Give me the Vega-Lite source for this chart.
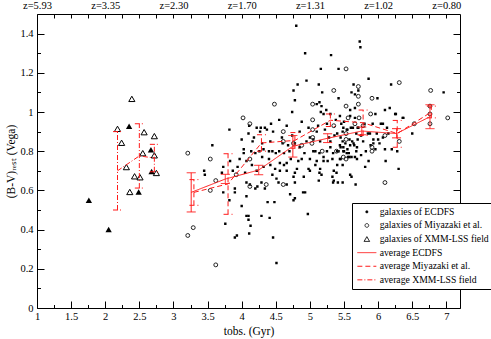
{
  "$schema": "https://vega.github.io/schema/vega-lite/v6.json",
  "width": 423,
  "height": 294,
  "autosize": {"type": "none"},
  "padding": {"left": 37, "top": 14, "right": 31, "bottom": 31},
  "background": "white",
  "config": {
    "view": {"stroke": null},
    "font": "Liberation Serif",
    "axis": {
      "labelFont": "Liberation Serif", "titleFont": "Liberation Serif",
      "labelFontSize": 10.5, "titleFontSize": 11.5, "titleFontWeight": "normal",
      "labelColor": "black", "titleColor": "black", "domainColor": "black", "tickColor": "black",
      "grid": false, "domainWidth": 1, "tickWidth": 1, "labelFlush": false, "labelOverlap": false, "labelBound": false
    },
    "legend": {
      "orient": "none", "legendX": 315, "legendY": 189,
      "strokeColor": "black", "fillColor": "white", "padding": 4,
      "labelFont": "Liberation Serif", "labelFontSize": 9.7, "labelColor": "black", "labelLimit": 0,
      "symbolStrokeWidth": 1, "symbolSize": 30, "rowPadding": 2.6, "labelOffset": 8, "symbolOffset": 6
    }
  },
  "datasets": {
    "pts": [
      {"s":"galaxies of ECDFS","t":4.80,"v":1.44},{"s":"galaxies of ECDFS","t":4.93,"v":1.30},{"s":"galaxies of ECDFS","t":5.31,"v":1.29},
      {"s":"galaxies of ECDFS","t":5.16,"v":1.22},{"s":"galaxies of ECDFS","t":5.42,"v":1.22},{"s":"galaxies of ECDFS","t":5.73,"v":1.36},
      {"s":"galaxies of ECDFS","t":5.74,"v":1.33},{"s":"galaxies of ECDFS","t":4.95,"v":1.16},{"s":"galaxies of ECDFS","t":4.82,"v":1.14},
      {"s":"galaxies of ECDFS","t":5.13,"v":1.14},{"s":"galaxies of ECDFS","t":5.64,"v":1.14},{"s":"galaxies of ECDFS","t":5.86,"v":1.17},
      {"s":"galaxies of ECDFS","t":6.19,"v":1.14},{"s":"galaxies of ECDFS","t":6.96,"v":1.10},{"s":"galaxies of ECDFS","t":4.76,"v":1.11},
      {"s":"galaxies of ECDFS","t":5.18,"v":1.10},{"s":"galaxies of ECDFS","t":5.61,"v":1.10},{"s":"galaxies of ECDFS","t":5.66,"v":1.09},
      {"s":"galaxies of ECDFS","t":5.71,"v":1.11},{"s":"galaxies of ECDFS","t":5.42,"v":1.07},{"s":"galaxies of ECDFS","t":5.99,"v":1.07},
      {"s":"galaxies of ECDFS","t":4.78,"v":1.06},{"s":"galaxies of ECDFS","t":5.14,"v":1.05},{"s":"galaxies of ECDFS","t":5.17,"v":1.03},
      {"s":"galaxies of ECDFS","t":5.16,"v":1.00},{"s":"galaxies of ECDFS","t":5.24,"v":1.01},{"s":"galaxies of ECDFS","t":5.66,"v":1.02},
      {"s":"galaxies of ECDFS","t":5.59,"v":1.01},{"s":"galaxies of ECDFS","t":6.10,"v":1.01},{"s":"galaxies of ECDFS","t":6.17,"v":1.02},
      {"s":"galaxies of ECDFS","t":6.25,"v":0.99},{"s":"galaxies of ECDFS","t":6.36,"v":0.97},{"s":"galaxies of ECDFS","t":4.74,"v":1.00},
      {"s":"galaxies of ECDFS","t":5.20,"v":0.99},{"s":"galaxies of ECDFS","t":5.30,"v":0.99},{"s":"galaxies of ECDFS","t":5.44,"v":0.98},
      {"s":"galaxies of ECDFS","t":5.59,"v":0.98},{"s":"galaxies of ECDFS","t":5.66,"v":0.97},{"s":"galaxies of ECDFS","t":5.96,"v":0.99},
      {"s":"galaxies of ECDFS","t":6.26,"v":0.99},{"s":"galaxies of ECDFS","t":6.37,"v":0.97},{"s":"galaxies of ECDFS","t":6.04,"v":0.94},
      {"s":"galaxies of ECDFS","t":6.07,"v":0.94},{"s":"galaxies of ECDFS","t":5.92,"v":0.94},{"s":"galaxies of ECDFS","t":6.50,"v":0.89},
      {"s":"galaxies of ECDFS","t":3.82,"v":0.91},{"s":"galaxies of ECDFS","t":4.11,"v":0.93},{"s":"galaxies of ECDFS","t":4.22,"v":0.92},
      {"s":"galaxies of ECDFS","t":4.28,"v":0.92},{"s":"galaxies of ECDFS","t":4.34,"v":0.92},{"s":"galaxies of ECDFS","t":4.37,"v":0.91},
      {"s":"galaxies of ECDFS","t":4.66,"v":0.93},{"s":"galaxies of ECDFS","t":4.46,"v":0.90},{"s":"galaxies of ECDFS","t":4.27,"v":0.90},
      {"s":"galaxies of ECDFS","t":4.98,"v":0.92},{"s":"galaxies of ECDFS","t":4.10,"v":0.89},{"s":"galaxies of ECDFS","t":4.18,"v":0.87},
      {"s":"galaxies of ECDFS","t":4.16,"v":0.85},{"s":"galaxies of ECDFS","t":4.00,"v":0.86},{"s":"galaxies of ECDFS","t":3.57,"v":0.83},
      {"s":"galaxies of ECDFS","t":4.59,"v":0.87},{"s":"galaxies of ECDFS","t":4.74,"v":0.88},{"s":"galaxies of ECDFS","t":4.85,"v":0.90},
      {"s":"galaxies of ECDFS","t":5.10,"v":0.90},{"s":"galaxies of ECDFS","t":5.22,"v":0.91},{"s":"galaxies of ECDFS","t":5.40,"v":0.89},
      {"s":"galaxies of ECDFS","t":5.48,"v":0.90},{"s":"galaxies of ECDFS","t":5.55,"v":0.91},{"s":"galaxies of ECDFS","t":5.60,"v":0.92},
      {"s":"galaxies of ECDFS","t":5.68,"v":0.89},{"s":"galaxies of ECDFS","t":5.75,"v":0.88},{"s":"galaxies of ECDFS","t":5.85,"v":0.89},
      {"s":"galaxies of ECDFS","t":5.88,"v":0.89},{"s":"galaxies of ECDFS","t":5.98,"v":0.89},{"s":"galaxies of ECDFS","t":6.07,"v":0.87},
      {"s":"galaxies of ECDFS","t":6.15,"v":0.89},{"s":"galaxies of ECDFS","t":6.00,"v":0.86},{"s":"galaxies of ECDFS","t":5.93,"v":0.86},
      {"s":"galaxies of ECDFS","t":5.93,"v":0.84},{"s":"galaxies of ECDFS","t":5.89,"v":0.83},{"s":"galaxies of ECDFS","t":5.96,"v":0.81},
      {"s":"galaxies of ECDFS","t":6.10,"v":0.81},{"s":"galaxies of ECDFS","t":6.20,"v":0.81},{"s":"galaxies of ECDFS","t":6.28,"v":0.80},
      {"s":"galaxies of ECDFS","t":5.00,"v":0.87},{"s":"galaxies of ECDFS","t":5.05,"v":0.86},{"s":"galaxies of ECDFS","t":4.95,"v":0.85},
      {"s":"galaxies of ECDFS","t":5.15,"v":0.85},{"s":"galaxies of ECDFS","t":5.30,"v":0.85},{"s":"galaxies of ECDFS","t":5.48,"v":0.85},
      {"s":"galaxies of ECDFS","t":5.52,"v":0.84},{"s":"galaxies of ECDFS","t":5.58,"v":0.86},{"s":"galaxies of ECDFS","t":5.62,"v":0.85},
      {"s":"galaxies of ECDFS","t":5.65,"v":0.83},{"s":"galaxies of ECDFS","t":5.45,"v":0.82},{"s":"galaxies of ECDFS","t":5.40,"v":0.80},
      {"s":"galaxies of ECDFS","t":5.50,"v":0.80},{"s":"galaxies of ECDFS","t":5.55,"v":0.81},{"s":"galaxies of ECDFS","t":5.57,"v":0.79},
      {"s":"galaxies of ECDFS","t":5.30,"v":0.82},{"s":"galaxies of ECDFS","t":5.25,"v":0.80},{"s":"galaxies of ECDFS","t":5.20,"v":0.77},
      {"s":"galaxies of ECDFS","t":5.14,"v":0.79},{"s":"galaxies of ECDFS","t":5.08,"v":0.80},{"s":"galaxies of ECDFS","t":5.00,"v":0.76},
      {"s":"galaxies of ECDFS","t":4.92,"v":0.79},{"s":"galaxies of ECDFS","t":4.85,"v":0.82},{"s":"galaxies of ECDFS","t":4.70,"v":0.80},
      {"s":"galaxies of ECDFS","t":4.62,"v":0.79},{"s":"galaxies of ECDFS","t":4.55,"v":0.80},{"s":"galaxies of ECDFS","t":4.50,"v":0.79},
      {"s":"galaxies of ECDFS","t":4.45,"v":0.80},{"s":"galaxies of ECDFS","t":4.40,"v":0.80},{"s":"galaxies of ECDFS","t":4.32,"v":0.81},
      {"s":"galaxies of ECDFS","t":4.26,"v":0.80},{"s":"galaxies of ECDFS","t":4.20,"v":0.79},{"s":"galaxies of ECDFS","t":4.14,"v":0.80},
      {"s":"galaxies of ECDFS","t":4.03,"v":0.81},{"s":"galaxies of ECDFS","t":4.03,"v":0.79},{"s":"galaxies of ECDFS","t":3.97,"v":0.76},
      {"s":"galaxies of ECDFS","t":4.07,"v":0.75},{"s":"galaxies of ECDFS","t":4.60,"v":0.84},{"s":"galaxies of ECDFS","t":4.68,"v":0.83},
      {"s":"galaxies of ECDFS","t":4.78,"v":0.84},{"s":"galaxies of ECDFS","t":4.42,"v":0.85},{"s":"galaxies of ECDFS","t":4.30,"v":0.84},
      {"s":"galaxies of ECDFS","t":3.94,"v":0.72},{"s":"galaxies of ECDFS","t":3.87,"v":0.70},{"s":"galaxies of ECDFS","t":3.83,"v":0.75},
      {"s":"galaxies of ECDFS","t":3.73,"v":0.72},{"s":"galaxies of ECDFS","t":3.71,"v":0.69},{"s":"galaxies of ECDFS","t":3.45,"v":0.70},
      {"s":"galaxies of ECDFS","t":3.46,"v":0.68},{"s":"galaxies of ECDFS","t":4.05,"v":0.69},{"s":"galaxies of ECDFS","t":4.22,"v":0.70},
      {"s":"galaxies of ECDFS","t":4.32,"v":0.72},{"s":"galaxies of ECDFS","t":4.42,"v":0.73},{"s":"galaxies of ECDFS","t":4.49,"v":0.71},
      {"s":"galaxies of ECDFS","t":4.56,"v":0.70},{"s":"galaxies of ECDFS","t":4.66,"v":0.70},{"s":"galaxies of ECDFS","t":4.76,"v":0.67},
      {"s":"galaxies of ECDFS","t":4.78,"v":0.69},{"s":"galaxies of ECDFS","t":4.81,"v":0.71},{"s":"galaxies of ECDFS","t":4.98,"v":0.71},
      {"s":"galaxies of ECDFS","t":5.34,"v":0.79},{"s":"galaxies of ECDFS","t":5.42,"v":0.80},{"s":"galaxies of ECDFS","t":5.20,"v":0.75},
      {"s":"galaxies of ECDFS","t":5.35,"v":0.70},{"s":"galaxies of ECDFS","t":5.35,"v":0.65},{"s":"galaxies of ECDFS","t":5.48,"v":0.64},
      {"s":"galaxies of ECDFS","t":5.59,"v":0.68},{"s":"galaxies of ECDFS","t":5.67,"v":0.63},{"s":"galaxies of ECDFS","t":5.58,"v":0.77},
      {"s":"galaxies of ECDFS","t":5.61,"v":0.77},{"s":"galaxies of ECDFS","t":5.00,"v":0.70},{"s":"galaxies of ECDFS","t":5.08,"v":0.73},
      {"s":"galaxies of ECDFS","t":5.14,"v":0.69},{"s":"galaxies of ECDFS","t":5.26,"v":0.75},{"s":"galaxies of ECDFS","t":5.39,"v":0.69},
      {"s":"galaxies of ECDFS","t":5.86,"v":0.75},{"s":"galaxies of ECDFS","t":6.11,"v":0.75},{"s":"galaxies of ECDFS","t":6.30,"v":0.71},
      {"s":"galaxies of ECDFS","t":5.81,"v":0.72},{"s":"galaxies of ECDFS","t":5.61,"v":0.67},{"s":"galaxies of ECDFS","t":5.41,"v":0.64},
      {"s":"galaxies of ECDFS","t":5.34,"v":0.64},{"s":"galaxies of ECDFS","t":5.33,"v":0.67},{"s":"galaxies of ECDFS","t":5.17,"v":0.68},
      {"s":"galaxies of ECDFS","t":5.13,"v":0.65},{"s":"galaxies of ECDFS","t":4.91,"v":0.67},{"s":"galaxies of ECDFS","t":4.93,"v":0.59},
      {"s":"galaxies of ECDFS","t":5.15,"v":0.71},{"s":"galaxies of ECDFS","t":5.40,"v":0.73},{"s":"galaxies of ECDFS","t":5.48,"v":0.73},
      {"s":"galaxies of ECDFS","t":4.07,"v":0.64},{"s":"galaxies of ECDFS","t":4.12,"v":0.63},{"s":"galaxies of ECDFS","t":4.20,"v":0.61},
      {"s":"galaxies of ECDFS","t":4.23,"v":0.62},{"s":"galaxies of ECDFS","t":4.29,"v":0.64},{"s":"galaxies of ECDFS","t":4.34,"v":0.61},
      {"s":"galaxies of ECDFS","t":3.73,"v":0.59},{"s":"galaxies of ECDFS","t":3.82,"v":0.55},{"s":"galaxies of ECDFS","t":3.90,"v":0.61},
      {"s":"galaxies of ECDFS","t":3.90,"v":0.59},{"s":"galaxies of ECDFS","t":4.07,"v":0.57},{"s":"galaxies of ECDFS","t":4.00,"v":0.52},
      {"s":"galaxies of ECDFS","t":4.10,"v":0.47},{"s":"galaxies of ECDFS","t":4.13,"v":0.42},{"s":"galaxies of ECDFS","t":3.90,"v":0.36},
      {"s":"galaxies of ECDFS","t":3.93,"v":0.37},{"s":"galaxies of ECDFS","t":4.11,"v":0.38},{"s":"galaxies of ECDFS","t":4.46,"v":0.36},
      {"s":"galaxies of ECDFS","t":4.29,"v":0.47},{"s":"galaxies of ECDFS","t":4.41,"v":0.46},{"s":"galaxies of ECDFS","t":4.38,"v":0.54},
      {"s":"galaxies of ECDFS","t":4.48,"v":0.54},{"s":"galaxies of ECDFS","t":4.71,"v":0.58},{"s":"galaxies of ECDFS","t":4.76,"v":0.55},
      {"s":"galaxies of ECDFS","t":4.78,"v":0.56},{"s":"galaxies of ECDFS","t":4.90,"v":0.59},{"s":"galaxies of ECDFS","t":4.97,"v":0.48},
      {"s":"galaxies of ECDFS","t":4.51,"v":0.23},{"s":"galaxies of ECDFS","t":3.76,"v":0.43},{"s":"galaxies of ECDFS","t":4.07,"v":0.47},
      {"s":"galaxies of ECDFS","t":4.10,"v":0.45},{"s":"galaxies of ECDFS","t":4.56,"v":0.74},{"s":"galaxies of ECDFS","t":4.66,"v":0.74},
      {"s":"galaxies of ECDFS","t":4.83,"v":0.75},{"s":"galaxies of ECDFS","t":4.51,"v":0.66},{"s":"galaxies of ECDFS","t":4.54,"v":0.64},
      {"s":"galaxies of ECDFS","t":4.66,"v":0.63},{"s":"galaxies of ECDFS","t":4.78,"v":0.64},{"s":"galaxies of ECDFS","t":5.10,"v":1.04},
      {"s":"galaxies of ECDFS","t":5.28,"v":0.87},{"s":"galaxies of ECDFS","t":5.36,"v":0.88},{"s":"galaxies of ECDFS","t":5.45,"v":0.87},
      {"s":"galaxies of ECDFS","t":5.70,"v":0.86},{"s":"galaxies of ECDFS","t":5.78,"v":0.85},{"s":"galaxies of ECDFS","t":5.82,"v":0.80},
      {"s":"galaxies of ECDFS","t":6.02,"v":0.84},{"s":"galaxies of ECDFS","t":5.75,"v":0.78},{"s":"galaxies of ECDFS","t":5.33,"v":0.76},
      {"s":"galaxies of ECDFS","t":5.45,"v":0.76},{"s":"galaxies of ECDFS","t":5.10,"v":0.75},{"s":"galaxies of ECDFS","t":5.05,"v":0.80},
      {"s":"galaxies of ECDFS","t":4.88,"v":0.76},{"s":"galaxies of ECDFS","t":4.72,"v":0.76},{"s":"galaxies of ECDFS","t":4.62,"v":0.73},
      {"s":"galaxies of ECDFS","t":4.40,"v":0.76},{"s":"galaxies of ECDFS","t":4.30,"v":0.77},{"s":"galaxies of ECDFS","t":4.15,"v":0.73},
      {"s":"galaxies of ECDFS","t":4.45,"v":0.68},{"s":"galaxies of ECDFS","t":5.70,"v":0.92},{"s":"galaxies of ECDFS","t":5.80,"v":0.94},
      {"s":"galaxies of ECDFS","t":6.13,"v":0.92},{"s":"galaxies of ECDFS","t":5.50,"v":0.95},{"s":"galaxies of ECDFS","t":5.38,"v":0.96},
      {"s":"galaxies of ECDFS","t":4.88,"v":0.95},{"s":"galaxies of ECDFS","t":4.55,"v":0.96},{"s":"galaxies of ECDFS","t":4.43,"v":0.94},
      {"s":"galaxies of ECDFS","t":5.25,"v":0.94},{"s":"galaxies of ECDFS","t":5.12,"v":0.93},{"s":"galaxies of ECDFS","t":5.46,"v":0.94},
      {"s":"galaxies of ECDFS","t":5.49,"v":0.92},{"s":"galaxies of ECDFS","t":5.54,"v":0.91},{"s":"galaxies of ECDFS","t":5.63,"v":0.92},
      {"s":"galaxies of ECDFS","t":5.71,"v":0.92},{"s":"galaxies of ECDFS","t":5.44,"v":0.83},{"s":"galaxies of ECDFS","t":5.49,"v":0.82},
      {"s":"galaxies of ECDFS","t":5.59,"v":0.83},{"s":"galaxies of ECDFS","t":5.69,"v":0.82},{"s":"galaxies of ECDFS","t":5.64,"v":0.84},
      {"s":"galaxies of ECDFS","t":5.68,"v":0.80},{"s":"galaxies of ECDFS","t":5.49,"v":0.80},{"s":"galaxies of ECDFS","t":5.54,"v":0.79},
      {"s":"galaxies of ECDFS","t":5.56,"v":0.77},{"s":"galaxies of ECDFS","t":5.66,"v":0.77},{"s":"galaxies of ECDFS","t":5.69,"v":0.76},
      {"s":"galaxies of ECDFS","t":5.44,"v":0.76},
      {"s":"galaxies of Miyazaki et al.","t":5.35,"v":1.11},{"s":"galaxies of Miyazaki et al.","t":4.48,"v":1.04},{"s":"galaxies of Miyazaki et al.","t":5.04,"v":1.04},
      {"s":"galaxies of Miyazaki et al.","t":5.53,"v":1.03},{"s":"galaxies of Miyazaki et al.","t":5.53,"v":1.22},{"s":"galaxies of Miyazaki et al.","t":6.31,"v":1.15},
      {"s":"galaxies of Miyazaki et al.","t":5.71,"v":1.13},{"s":"galaxies of Miyazaki et al.","t":4.02,"v":0.97},{"s":"galaxies of Miyazaki et al.","t":5.04,"v":0.96},
      {"s":"galaxies of Miyazaki et al.","t":5.56,"v":0.97},{"s":"galaxies of Miyazaki et al.","t":5.04,"v":0.91},{"s":"galaxies of Miyazaki et al.","t":4.12,"v":0.94},
      {"s":"galaxies of Miyazaki et al.","t":4.61,"v":0.90},{"s":"galaxies of Miyazaki et al.","t":4.61,"v":0.85},{"s":"galaxies of Miyazaki et al.","t":5.04,"v":0.87},
      {"s":"galaxies of Miyazaki et al.","t":4.88,"v":0.83},{"s":"galaxies of Miyazaki et al.","t":5.18,"v":0.80},{"s":"galaxies of Miyazaki et al.","t":5.53,"v":0.76},
      {"s":"galaxies of Miyazaki et al.","t":3.21,"v":0.79},{"s":"galaxies of Miyazaki et al.","t":3.54,"v":0.76},{"s":"galaxies of Miyazaki et al.","t":4.12,"v":0.76},
      {"s":"galaxies of Miyazaki et al.","t":5.03,"v":0.84},{"s":"galaxies of Miyazaki et al.","t":3.62,"v":0.65},{"s":"galaxies of Miyazaki et al.","t":3.54,"v":0.60},
      {"s":"galaxies of Miyazaki et al.","t":4.12,"v":0.62},{"s":"galaxies of Miyazaki et al.","t":4.36,"v":0.63},{"s":"galaxies of Miyazaki et al.","t":4.61,"v":0.63},
      {"s":"galaxies of Miyazaki et al.","t":3.92,"v":0.68},{"s":"galaxies of Miyazaki et al.","t":3.29,"v":0.41},{"s":"galaxies of Miyazaki et al.","t":3.21,"v":0.37},
      {"s":"galaxies of Miyazaki et al.","t":3.62,"v":0.22},{"s":"galaxies of Miyazaki et al.","t":5.71,"v":1.08},{"s":"galaxies of Miyazaki et al.","t":5.91,"v":1.07},
      {"s":"galaxies of Miyazaki et al.","t":5.71,"v":1.04},{"s":"galaxies of Miyazaki et al.","t":5.89,"v":0.99},{"s":"galaxies of Miyazaki et al.","t":5.66,"v":0.94},
      {"s":"galaxies of Miyazaki et al.","t":5.78,"v":0.93},{"s":"galaxies of Miyazaki et al.","t":5.53,"v":0.89},{"s":"galaxies of Miyazaki et al.","t":5.53,"v":0.86},
      {"s":"galaxies of Miyazaki et al.","t":5.91,"v":0.82},{"s":"galaxies of Miyazaki et al.","t":5.91,"v":0.80},{"s":"galaxies of Miyazaki et al.","t":6.10,"v":0.64},
      {"s":"galaxies of Miyazaki et al.","t":6.76,"v":1.03},{"s":"galaxies of Miyazaki et al.","t":6.76,"v":0.99},{"s":"galaxies of Miyazaki et al.","t":6.76,"v":0.94},
      {"s":"galaxies of Miyazaki et al.","t":6.53,"v":0.94},{"s":"galaxies of Miyazaki et al.","t":6.31,"v":0.85},{"s":"galaxies of Miyazaki et al.","t":7.02,"v":0.97},
      {"s":"galaxies of Miyazaki et al.","t":6.77,"v":1.11},{"s":"galaxies of Miyazaki et al.","t":5.35,"v":0.93},{"s":"galaxies of Miyazaki et al.","t":6.10,"v":0.88},
      {"s":"galaxies of Miyazaki et al.","t":5.72,"v":0.97},{"s":"galaxies of Miyazaki et al.","t":5.39,"v":0.80},{"s":"galaxies of Miyazaki et al.","t":5.49,"v":0.77},
      {"s":"galaxies of Miyazaki et al.","t":4.76,"v":0.84},
      {"s":"galaxies of XMM-LSS field","t":2.39,"v":1.067},{"s":"galaxies of XMM-LSS field","t":2.18,"v":0.914},{"s":"galaxies of XMM-LSS field","t":2.57,"v":0.897},
      {"s":"galaxies of XMM-LSS field","t":2.72,"v":0.877},{"s":"galaxies of XMM-LSS field","t":2.24,"v":0.843},{"s":"galaxies of XMM-LSS field","t":2.55,"v":0.790},
      {"s":"galaxies of XMM-LSS field","t":2.72,"v":0.779},{"s":"galaxies of XMM-LSS field","t":2.31,"v":0.719},{"s":"galaxies of XMM-LSS field","t":2.43,"v":0.672},
      {"s":"galaxies of XMM-LSS field","t":2.51,"v":0.667},{"s":"galaxies of XMM-LSS field","t":2.75,"v":0.689},{"s":"galaxies of XMM-LSS field","t":2.36,"v":0.592}
    ],
    "filled": [
      {"t":2.35,"v":0.927},{"t":2.67,"v":0.807},{"t":2.68,"v":0.697},{"t":2.49,"v":0.592},{"t":1.76,"v":0.55},{"t":2.05,"v":0.40}
    ],
    "avg": [
      {"s":"average ECDFS","t":3.26,"v":0.59,"lo":0.49,"hi":0.69},
      {"s":"average ECDFS","t":3.76,"v":0.658,"lo":0.635,"hi":0.682},
      {"s":"average ECDFS","t":4.25,"v":0.704,"lo":0.68,"hi":0.728},
      {"s":"average ECDFS","t":4.75,"v":0.825,"lo":0.77,"hi":0.88},
      {"s":"average ECDFS","t":5.26,"v":0.866,"lo":0.844,"hi":0.889},
      {"s":"average ECDFS","t":5.76,"v":0.903,"lo":0.884,"hi":0.923},
      {"s":"average ECDFS","t":6.27,"v":0.89,"lo":0.868,"hi":0.915},
      {"s":"average ECDFS","t":6.76,"v":0.976,"lo":0.915,"hi":1.037},
      {"s":"average Miyazaki et al.","t":3.30,"v":0.59,"lo":0.524,"hi":0.655},
      {"s":"average Miyazaki et al.","t":3.80,"v":0.633,"lo":0.478,"hi":0.787},
      {"s":"average Miyazaki et al.","t":4.29,"v":0.842,"lo":0.80,"hi":0.884},
      {"s":"average Miyazaki et al.","t":4.78,"v":0.855,"lo":0.815,"hi":0.895},
      {"s":"average Miyazaki et al.","t":5.30,"v":0.958,"lo":0.926,"hi":0.99},
      {"s":"average Miyazaki et al.","t":5.78,"v":0.945,"lo":0.88,"hi":1.01},
      {"s":"average Miyazaki et al.","t":6.28,"v":0.89,"lo":0.82,"hi":0.957},
      {"s":"average Miyazaki et al.","t":6.78,"v":1.0,"lo":0.97,"hi":1.03},
      {"s":"average XMM-LSS field","t":2.18,"v":0.70,"lo":0.50,"hi":0.90},
      {"s":"average XMM-LSS field","t":2.50,"v":0.776,"lo":0.612,"hi":0.94},
      {"s":"average XMM-LSS field","t":2.72,"v":0.765,"lo":0.695,"hi":0.835}
    ]
  },
  "layer": [
    {
      "data": {"name": "filled"},
      "mark": {"type": "point", "shape": "triangle-up", "filled": true, "color": "black", "size": 40, "opacity": 1},
      "encoding": {
        "x": {"field": "t", "type": "quantitative", "scale": {"domain": [1, 7.2], "nice": false, "zero": false},
          "axis": {"orient": "bottom", "title": "tobs. (Gyr)", "titlePadding": 0,
            "values": [1,1.25,1.5,1.75,2,2.25,2.5,2.75,3,3.25,3.5,3.75,4,4.25,4.5,4.75,5,5.25,5.5,5.75,6,6.25,6.5,6.75,7],
            "labelExpr": "datum.value % 0.5 === 0 ? '' + datum.value : ''",
            "tickSize": {"condition": {"test": "datum.value % 0.5 === 0", "value": -7}, "value": -3.5},
            "labelPadding": 10}},
        "y": {"field": "v", "type": "quantitative", "scale": {"domain": [0, 1.5], "nice": false, "zero": false},
          "axis": {"orient": "left", "title": "(B-V)ᵣₑₛₜ (Vega)", "titlePadding": 3,
            "values": [0,0.1,0.2,0.3,0.4,0.5,0.6,0.7,0.8,0.9,1,1.1,1.2,1.3,1.4],
            "labelExpr": "round(datum.value*10) % 2 === 0 ? '' + round(datum.value*10)/10 : ''",
            "tickSize": {"condition": {"test": "round(datum.value*10) % 2 === 0", "value": -7}, "value": -3.5},
            "labelPadding": 11}}
      }
    },
    {
      "data": {"name": "pts"},
      "mark": {"type": "point", "filled": false, "opacity": 1},
      "encoding": {
        "x": {"field": "t", "type": "quantitative", "scale": {"domain": [1, 7.2], "nice": false, "zero": false},
          "axis": {"orient": "top", "title": null,
            "values": [1,1.25,1.5,1.75,2,2.25,2.5,2.75,3,3.25,3.5,3.75,4,4.25,4.5,4.75,5,5.25,5.5,5.75,6,6.25,6.5,6.75,7],
            "labelExpr": "datum.value === 1 ? 'z=5.93' : datum.value === 2 ? 'z=3.35' : datum.value === 3 ? 'z=2.30' : datum.value === 4 ? 'z=1.70' : datum.value === 5 ? 'z=1.31' : datum.value === 6 ? 'z=1.02' : datum.value === 7 ? 'z=0.80' : ''",
            "tickSize": -4, "labelPadding": 8}},
        "y": {"field": "v", "type": "quantitative", "scale": {"domain": [0, 1.5], "nice": false, "zero": false},
          "axis": {"orient": "right", "title": null, "labels": false,
            "values": [0,0.1,0.2,0.3,0.4,0.5,0.6,0.7,0.8,0.9,1,1.1,1.2,1.3,1.4],
            "tickSize": {"condition": {"test": "round(datum.value*10) % 2 === 0", "value": -7}, "value": -3.5}}},
        "color": {"field": "s", "type": "nominal",
          "scale": {"domain": ["galaxies of ECDFS","galaxies of Miyazaki et al.","galaxies of XMM-LSS field","average ECDFS","average Miyazaki et al.","average XMM-LSS field"],
                    "range": ["black","#222222","black","#ff1a1a","#ff1a1a","#ff1a1a"]},
          "legend": {"title": null,
            "encode": {"symbols": {"update": {
              "size": {"signal": "datum.value === 'galaxies of ECDFS' ? 3 : datum.value === 'galaxies of Miyazaki et al.' ? 14 : datum.value === 'galaxies of XMM-LSS field' ? 30 : 40"},
              "fill": {"signal": "datum.value === 'galaxies of ECDFS' ? 'black' : 'transparent'"}}}}}},
        "shape": {"field": "s", "type": "nominal",
          "scale": {"domain": ["galaxies of ECDFS","galaxies of Miyazaki et al.","galaxies of XMM-LSS field","average ECDFS","average Miyazaki et al.","average XMM-LSS field"],
                    "range": ["square","circle","triangle-up","M-3,0H3","M-3,0H3","M-3,0H3"]},
          "legend": {"title": null,
            "encode": {"symbols": {"update": {
              "size": {"signal": "datum.value === 'galaxies of ECDFS' ? 3 : datum.value === 'galaxies of Miyazaki et al.' ? 14 : datum.value === 'galaxies of XMM-LSS field' ? 30 : 40"},
              "fill": {"signal": "datum.value === 'galaxies of ECDFS' ? 'black' : 'transparent'"}}}}}},
        "size": {"condition": [{"test": "datum.s === 'galaxies of ECDFS'", "value": 1.5}, {"test": "datum.s === 'galaxies of XMM-LSS field'", "value": 38}], "value": 15},
        "strokeWidth": {"condition": {"test": "datum.s === 'galaxies of ECDFS'", "value": 1.2}, "value": 1}
      }
    },
    {
      "data": {"name": "avg"},
      "mark": {"type": "line", "strokeWidth": 1},
      "encoding": {
        "x": {"field": "t", "type": "quantitative", "scale": {"domain": [1, 7.2], "nice": false, "zero": false}, "axis": null},
        "y": {"field": "v", "type": "quantitative", "scale": {"domain": [0, 1.5], "nice": false, "zero": false}, "axis": null},
        "color": {"field": "s", "type": "nominal",
          "scale": {"domain": ["galaxies of ECDFS","galaxies of Miyazaki et al.","galaxies of XMM-LSS field","average ECDFS","average Miyazaki et al.","average XMM-LSS field"],
                    "range": ["black","#222222","black","#ff1a1a","#ff1a1a","#ff1a1a"]},
          "legend": {"title": null,
            "encode": {"symbols": {"update": {
              "size": {"signal": "datum.value === 'galaxies of ECDFS' ? 3 : datum.value === 'galaxies of Miyazaki et al.' ? 14 : datum.value === 'galaxies of XMM-LSS field' ? 30 : 40"},
              "fill": {"signal": "datum.value === 'galaxies of ECDFS' ? 'black' : 'transparent'"}}}}}},
        "strokeDash": {"field": "s", "type": "nominal",
          "scale": {"domain": ["galaxies of ECDFS","galaxies of Miyazaki et al.","galaxies of XMM-LSS field","average ECDFS","average Miyazaki et al.","average XMM-LSS field"],
                    "range": [[1,0],[1,0],[1,0],[1,0],[5,3],[5,2,1,2]]},
          "legend": {"title": null,
            "encode": {"symbols": {"update": {
              "size": {"signal": "datum.value === 'galaxies of ECDFS' ? 3 : datum.value === 'galaxies of Miyazaki et al.' ? 14 : datum.value === 'galaxies of XMM-LSS field' ? 30 : 40"},
              "fill": {"signal": "datum.value === 'galaxies of ECDFS' ? 'black' : 'transparent'"}}}}}}
      }
    },
    {
      "data": {"name": "avg"},
      "mark": {"type": "rule", "strokeWidth": 1},
      "encoding": {
        "x": {"field": "t", "type": "quantitative", "scale": {"domain": [1, 7.2], "nice": false, "zero": false}, "axis": null},
        "y": {"field": "lo", "type": "quantitative", "scale": {"domain": [0, 1.5], "nice": false, "zero": false}, "axis": null},
        "y2": {"field": "hi"},
        "color": {"field": "s", "type": "nominal",
          "scale": {"domain": ["galaxies of ECDFS","galaxies of Miyazaki et al.","galaxies of XMM-LSS field","average ECDFS","average Miyazaki et al.","average XMM-LSS field"],
                    "range": ["black","#222222","black","#ff1a1a","#ff1a1a","#ff1a1a"]}},
        "strokeDash": {"field": "s", "type": "nominal",
          "scale": {"domain": ["galaxies of ECDFS","galaxies of Miyazaki et al.","galaxies of XMM-LSS field","average ECDFS","average Miyazaki et al.","average XMM-LSS field"],
                    "range": [[1,0],[1,0],[1,0],[1,0],[5,3],[5,2,1,2]]}}
      }
    },
    {
      "data": {"name": "avg"},
      "mark": {"type": "rule", "strokeWidth": 1, "xOffset": -4.5, "x2Offset": 4.5},
      "encoding": {
        "x": {"field": "t", "type": "quantitative", "scale": {"domain": [1, 7.2], "nice": false, "zero": false}, "axis": null},
        "x2": {"field": "t"},
        "y": {"field": "lo", "type": "quantitative", "scale": {"domain": [0, 1.5], "nice": false, "zero": false}, "axis": null},
        "color": {"field": "s", "type": "nominal",
          "scale": {"domain": ["galaxies of ECDFS","galaxies of Miyazaki et al.","galaxies of XMM-LSS field","average ECDFS","average Miyazaki et al.","average XMM-LSS field"],
                    "range": ["black","#222222","black","#ff1a1a","#ff1a1a","#ff1a1a"]}},
        "strokeDash": {"field": "s", "type": "nominal",
          "scale": {"domain": ["galaxies of ECDFS","galaxies of Miyazaki et al.","galaxies of XMM-LSS field","average ECDFS","average Miyazaki et al.","average XMM-LSS field"],
                    "range": [[1,0],[1,0],[1,0],[1,0],[5,3],[5,2,1,2]]}}
      }
    },
    {
      "data": {"name": "avg"},
      "mark": {"type": "rule", "strokeWidth": 1, "xOffset": -4.5, "x2Offset": 4.5},
      "encoding": {
        "x": {"field": "t", "type": "quantitative", "scale": {"domain": [1, 7.2], "nice": false, "zero": false}, "axis": null},
        "x2": {"field": "t"},
        "y": {"field": "hi", "type": "quantitative", "scale": {"domain": [0, 1.5], "nice": false, "zero": false}, "axis": null},
        "color": {"field": "s", "type": "nominal",
          "scale": {"domain": ["galaxies of ECDFS","galaxies of Miyazaki et al.","galaxies of XMM-LSS field","average ECDFS","average Miyazaki et al.","average XMM-LSS field"],
                    "range": ["black","#222222","black","#ff1a1a","#ff1a1a","#ff1a1a"]}},
        "strokeDash": {"field": "s", "type": "nominal",
          "scale": {"domain": ["galaxies of ECDFS","galaxies of Miyazaki et al.","galaxies of XMM-LSS field","average ECDFS","average Miyazaki et al.","average XMM-LSS field"],
                    "range": [[1,0],[1,0],[1,0],[1,0],[5,3],[5,2,1,2]]}}
      }
    }
  ],
  "resolve": {"axis": {"x": "independent", "y": "independent"}}
}
